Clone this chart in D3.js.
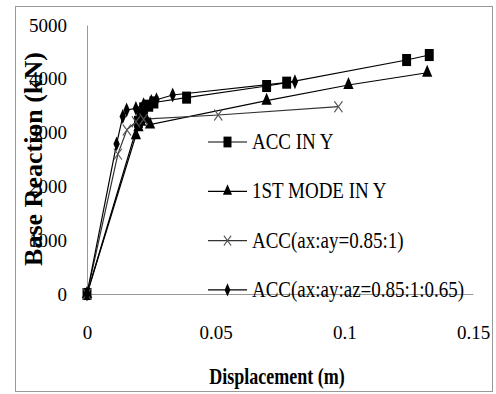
<!DOCTYPE html>
<html>
<head>
<meta charset="utf-8">
<script src="https://cdn.jsdelivr.net/npm/d3@7"></script>
<style>
  body { margin: 0; background: #fff; }
  text { font-family: "Liberation Serif", "Times New Roman", serif; fill: #000; }
</style>
</head>
<body>
<script>
// data: [displacement (m), base reaction (kN)]
const accY = [[0, 0], [0.020, 3200], [0.021, 3350], [0.022, 3450], [0.024, 3500], [0.026, 3560],
  [0.0387, 3650], [0.0698, 3866], [0.0776, 3928], [0.1242, 4349], [0.133, 4442]];
const firstModeY = [[0, 0], [0.019, 2950], [0.020, 3100], [0.021, 3200], [0.023, 3250], [0.0245, 3150],
  [0.0698, 3593], [0.1016, 3885], [0.1322, 4113]];
const accXY = [[0, 0], [0.012, 2600], [0.0155, 3050], [0.019, 3200], [0.022, 3250], [0.051, 3327], [0.0977, 3482]];
const accXYZ = [[0, 0], [0.0115, 2790], [0.0139, 3300], [0.0154, 3420], [0.019, 3450], [0.022, 3520],
  [0.025, 3580], [0.027, 3610], [0.0333, 3699], [0.0808, 3946]];

const seriesNames = ["ACC IN Y", "1ST MODE IN Y", "ACC(ax:ay=0.85:1)", "ACC(ax:ay:az=0.85:1:0.65)"];
const xTicks = [0, 0.05, 0.1, 0.15];
const yTicks = [0, 1000, 2000, 3000, 4000, 5000];

const width = 496, height = 394;

const series = [
  { name: seriesNames[0], data: accY, sym: d3.symbolSquare, size: 80, fill: "#000", stroke: "none", line: "#000" },
  { name: seriesNames[1], data: firstModeY, sym: d3.symbolTriangle, size: 45, fill: "#000", stroke: "none", line: "#000" },
  { name: seriesNames[2], data: accXY, sym: d3.symbolX, size: 45, fill: "none", stroke: "#555", line: "#333" },
  { name: seriesNames[3], data: accXYZ, sym: d3.symbolDiamond, size: 35, fill: "#000", stroke: "none", line: "#000" }
];

const svg = d3.select("body").append("svg")
  .attr("width", width)
  .attr("height", height);

// outer frame
svg.append("rect")
  .attr("x", 15.5).attr("y", 6.5)
  .attr("width", 477).attr("height", 385)
  .attr("fill", "none").attr("stroke", "#999");

const x = d3.scaleLinear().domain([0, 0.15]).range([87, 473]);
const y = d3.scaleLinear().domain([0, 5000]).range([294, 25]);

// y axis
const yAxis = svg.append("g")
  .attr("transform", "translate(87,0)")
  .call(d3.axisLeft(y).tickValues(yTicks).tickSize(0).tickSizeOuter(0).tickPadding(20).tickFormat(d3.format("d")));
yAxis.select(".domain").attr("stroke", "#999");
yAxis.selectAll("text").style("font-size", "19px").style("font-family", "Liberation Serif");

// x axis (drawn on the zero line)
const xAxis = svg.append("g")
  .attr("transform", "translate(0,294)")
  .call(d3.axisBottom(x).tickValues(xTicks).tickSize(0).tickSizeOuter(0).tickPadding(32).tickFormat(d => String(d)));
xAxis.select(".domain").attr("stroke", "#999");
xAxis.selectAll("text").style("font-size", "19px").style("font-family", "Liberation Serif");

// axis titles
svg.append("text")
  .attr("transform", "translate(277,384) scale(1,1.25)")
  .attr("text-anchor", "middle")
  .style("font-size", "18px").style("font-weight", "bold")
  .text("Displacement (m)");

svg.append("text")
  .attr("transform", "translate(42,159) rotate(-90)")
  .attr("text-anchor", "middle")
  .style("font-size", "26px").style("font-weight", "bold")
  .text("Base Reaction (kN)");

// lines and markers
const line = d3.line().x(d => x(d[0])).y(d => y(d[1]));

series.forEach(s => {
  svg.append("path")
    .datum(s.data)
    .attr("d", line)
    .attr("fill", "none")
    .attr("stroke", s.line)
    .attr("stroke-width", 1.2);
});

series.forEach(s => {
  svg.append("g").selectAll("path")
    .data(s.data)
    .join("path")
    .attr("transform", d => `translate(${x(d[0])},${y(d[1])}) scale(1,1.35)`)
    .attr("d", d3.symbol().type(s.sym).size(s.size))
    .attr("fill", s.fill)
    .attr("stroke", s.stroke)
    .attr("stroke-width", 1);
});

// legend
const legend = svg.append("g");
series.forEach((s, i) => {
  const ly = 142 + i * 49.3;
  const g = legend.append("g").attr("transform", `translate(0,${ly})`);
  g.append("line")
    .attr("x1", 208).attr("x2", 247)
    .attr("stroke", s.line).attr("stroke-width", 1.2);
  g.append("path")
    .attr("transform", "translate(227.5,0) scale(1,1.35)")
    .attr("d", d3.symbol().type(s.sym).size(s.size * 0.8))
    .attr("fill", s.fill).attr("stroke", s.stroke);
  g.append("text")
    .attr("transform", "translate(252,7) scale(1,1.2)")
    .style("font-size", "19px")
    .text(s.name);
});
</script>
</body>
</html>
